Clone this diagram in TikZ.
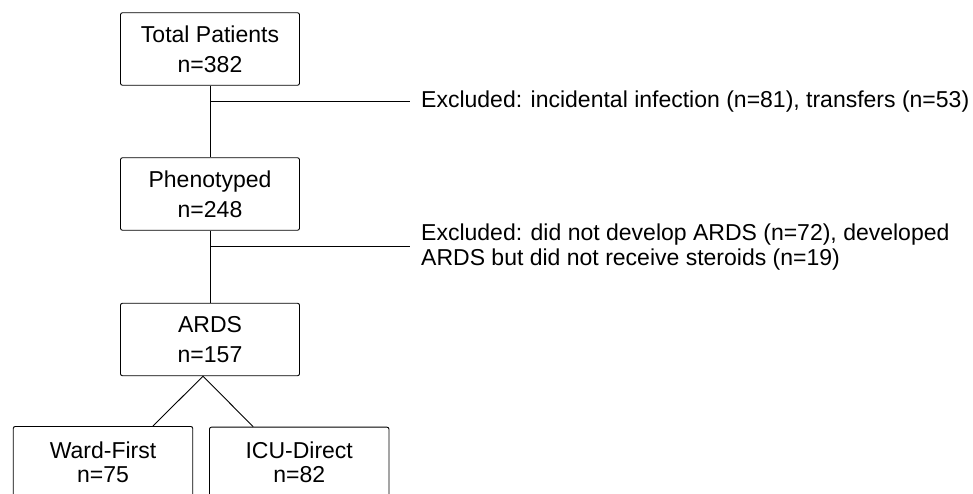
\documentclass[tikz,border=0pt]{standalone}
\usepackage{fontspec}
\setmainfont{Liberation Sans}
\begin{document}
\begin{tikzpicture}[x=1pt,y=-1pt,
  box/.style={draw, line width=0.9pt, rounded corners=2pt, minimum width=179pt, minimum height=72.5pt, align=center, font=\fontsize{23}{30}\selectfont, inner sep=0pt},
  cutbox/.style={draw, line width=0.9pt, rounded corners=2pt, minimum width=179.5pt, minimum height=120pt, anchor=north, inner sep=0pt},
  boxtxt/.style={align=center, font=\fontsize{23}{24}\selectfont, anchor=base, inner sep=0pt},
  extxt/.style={align=left, font=\fontsize{23}{25}\selectfont, anchor=base west, inner sep=0pt},
  conn/.style={line width=0.9pt}]
\useasboundingbox (0,0) rectangle (973,493);
\clip (0,0) rectangle (973,493);
\node[box] (total) at (210,49) {Total Patients\\n=382};
\node[box] (phen) at (210,194) {Phenotyped\\n=248};
\node[box] (ards) at (210,339.5) {ARDS\\n=157};
\node[cutbox] (wardbox) at (103,426) {};
\node[cutbox] (icubox) at (299.2,426.7) {};
\node[boxtxt] (wardtxt) at (103,482.3) {Ward-First\\n=75};
\node[boxtxt] (icutxt) at (299.2,482.3) {ICU-Direct\\n=82};
\draw[conn] (total) -- (phen);
\draw[conn] (phen) -- (ards);
\coordinate (b1) at (210,101);
\coordinate (e1) at (410,101);
\coordinate (b2) at (210,246);
\coordinate (e2) at (410,246);
\draw[conn] (b1) -- (e1);
\draw[conn] (b2) -- (e2);
\node[extxt] (ex1) at (421,107.7) {Excluded: incidental infection (n=81), transfers (n=53)};
\node[extxt] (ex2) at (421,265) {Excluded: did not develop ARDS (n=72), developed\\ARDS but did not receive steroids (n=19)};
\coordinate (apex) at ([xshift=-7pt]ards.south);
\draw[conn] ([xshift=50pt]wardbox.north) -- (apex) -- ([xshift=-46pt]icubox.north);
\end{tikzpicture}
\end{document}
